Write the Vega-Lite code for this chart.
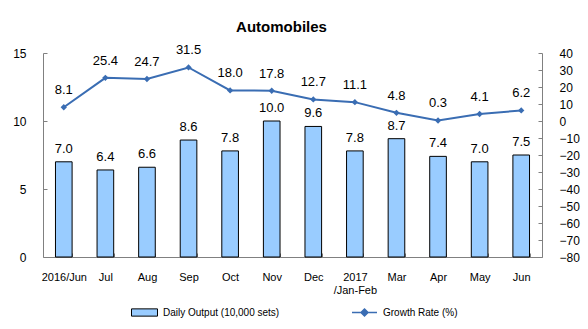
{
  "$schema": "https://vega.github.io/schema/vega-lite/v6.json",
  "width": 499,
  "height": 204,
  "autosize": "none",
  "padding": {"left": 43, "top": 53, "right": 46, "bottom": 72},
  "background": "white",
  "config": {
    "view": {"stroke": null},
    "font": "Liberation Sans",
    "axis": {"grid": false, "domainColor": "#808080", "tickColor": "#808080", "labelColor": "black", "labelFont": "Liberation Sans", "titleFont": "Liberation Sans", "labelOverlap": false, "labelFlush": false},
    "legend": {"labelFont": "Liberation Sans", "labelFontSize": 10, "labelColor": "black", "padding": 0}
  },
  "title": {"text": "Automobiles", "fontSize": 15, "fontWeight": "bold", "font": "Liberation Sans", "anchor": "middle", "dx": -11, "offset": 9, "color": "black"},
  "data": {"values": [
    {"month": "2016/Jun", "output": 7.0, "growth": 8.1},
    {"month": "Jul", "output": 6.4, "growth": 25.4},
    {"month": "Aug", "output": 6.6, "growth": 24.7},
    {"month": "Sep", "output": 8.6, "growth": 31.5},
    {"month": "Oct", "output": 7.8, "growth": 18.0},
    {"month": "Nov", "output": 10.0, "growth": 17.8},
    {"month": "Dec", "output": 9.6, "growth": 12.7},
    {"month": "2017/Jan-Feb", "output": 7.8, "growth": 11.1},
    {"month": "Mar", "output": 8.7, "growth": 4.8},
    {"month": "Apr", "output": 7.4, "growth": 0.3},
    {"month": "May", "output": 7.0, "growth": 4.1},
    {"month": "Jun", "output": 7.5, "growth": 6.2}
  ]},
  "encoding": {
    "x": {
      "field": "month", "type": "nominal", "sort": null,
      "scale": {"paddingInner": 0.6, "paddingOuter": 0.3},
      "axis": {"title": null, "labelAngle": 0, "labelFontSize": 11, "labelPadding": 18, "tickSize": -4, "tickBand": "extent",
        "labelExpr": "datum.value == '2017/Jan-Feb' ? ['2017', '/Jan-Feb'] : datum.value"}
    }
  },
  "layer": [
    {
      "encoding": {
        "y": {"field": "output", "type": "quantitative", "scale": {"domain": [0, 15], "nice": false, "zero": false},
          "axis": {"title": null, "orient": "left", "values": [0, 5, 10, 15], "labelFontSize": 12, "tickSize": -4, "labelPadding": 21}}
      },
      "layer": [
        {
          "mark": {"type": "bar", "stroke": "black", "strokeWidth": 1},
          "encoding": {
            "fill": {"datum": "Daily Output (10,000 sets)", "type": "nominal",
              "scale": {"range": ["#99ccff"]},
              "legend": {"title": null, "orient": "none", "legendX": 88, "legendY": 246,
                "symbolType": "M-1,-0.28H1V0.28H-1Z", "symbolSize": 676, "symbolStrokeColor": "black", "symbolStrokeWidth": 1, "symbolFillColor": "#99ccff", "labelOffset": 5}}
          }
        },
        {
          "mark": {"type": "text", "baseline": "bottom", "dy": -6, "fontSize": 13, "color": "black"},
          "encoding": {
            "text": {"field": "output", "type": "quantitative", "format": ".1f"}
          }
        }
      ]
    },
    {
      "encoding": {
        "y": {"field": "growth", "type": "quantitative", "scale": {"domain": [-80, 40], "nice": false, "zero": false},
          "axis": {"title": null, "orient": "right", "values": [-80, -70, -60, -50, -40, -30, -20, -10, 0, 10, 20, 30, 40], "labelFontSize": 12, "tickSize": -4, "labelPadding": 21, "labelOverlap": false}}
      },
      "layer": [
        {
          "mark": {"type": "line", "strokeWidth": 2},
          "encoding": {
            "color": {"datum": "Growth Rate (%)", "type": "nominal",
              "scale": {"range": ["#3a6db3"]},
              "legend": {"title": null, "orient": "none", "legendX": 308, "legendY": 246,
                "symbolType": "M-1,0H1M0,-0.28L0.28,0L0,0.28L-0.28,0Z", "symbolSize": 625, "symbolStrokeColor": "#3a6db3", "symbolFillColor": "#3a6db3", "symbolStrokeWidth": 1.5, "labelOffset": 5}}
          }
        },
        {
          "mark": {"type": "point", "shape": "diamond", "filled": true, "size": 40, "color": "#3a6db3", "opacity": 1}
        },
        {
          "mark": {"type": "text", "baseline": "middle", "dy": -17, "fontSize": 13, "color": "black"},
          "encoding": {
            "text": {"field": "growth", "type": "quantitative", "format": ".1f"}
          }
        }
      ]
    }
  ],
  "resolve": {"scale": {"y": "independent", "fill": "independent", "color": "independent"}}
}
